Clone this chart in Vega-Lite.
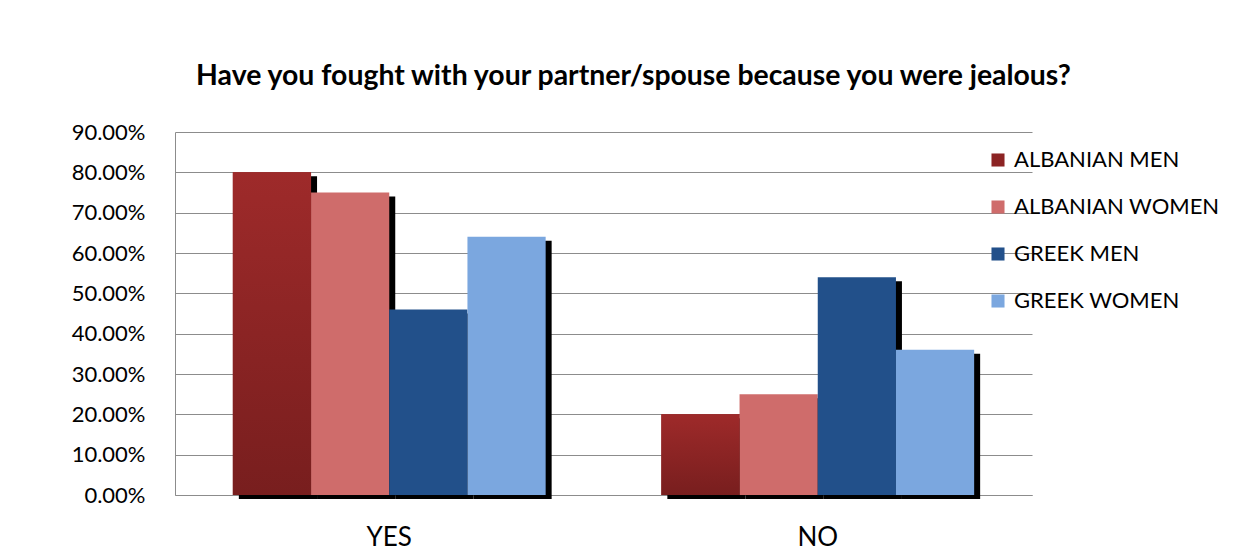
{
  "$schema": "https://vega.github.io/schema/vega-lite/v6.json",
  "autosize": "none",
  "width": 857,
  "height": 363,
  "padding": {"left": 175, "top": 132, "right": 210, "bottom": 58},
  "background": "white",
  "config": {
    "font": "Lato",
    "view": {"stroke": null}
  },
  "title": {
    "text": "Have you fought with your partner/spouse because you were jealous?",
    "font": "Lato",
    "fontSize": 28.4,
    "fontWeight": "bold",
    "color": "#000000",
    "anchor": "middle",
    "dx": 30,
    "offset": 30
  },
  "data": {
    "values": [
      {"answer": "YES", "group": "ALBANIAN MEN", "share": 0.80},
      {"answer": "YES", "group": "ALBANIAN WOMEN", "share": 0.75},
      {"answer": "YES", "group": "GREEK MEN", "share": 0.46},
      {"answer": "YES", "group": "GREEK WOMEN", "share": 0.64},
      {"answer": "NO", "group": "ALBANIAN MEN", "share": 0.20},
      {"answer": "NO", "group": "ALBANIAN WOMEN", "share": 0.25},
      {"answer": "NO", "group": "GREEK MEN", "share": 0.54},
      {"answer": "NO", "group": "GREEK WOMEN", "share": 0.36}
    ]
  },
  "encoding": {
    "x": {
      "field": "answer",
      "type": "nominal",
      "sort": ["YES", "NO"],
      "scale": {"paddingInner": 0.27, "paddingOuter": 0.135},
      "axis": {
        "title": null,
        "labelAngle": 0,
        "labelFontSize": 26,
        "labelColor": "#000000",
        "labelPadding": 29,
        "ticks": false,
        "domain": true,
        "domainColor": "#8c8c8c",
        "grid": false
      }
    },
    "y": {
      "field": "share",
      "type": "quantitative",
      "scale": {"domain": [0, 0.9], "nice": false},
      "axis": {
        "title": null,
        "format": ".2%",
        "values": [0, 0.1, 0.2, 0.3, 0.4, 0.5, 0.6, 0.7, 0.8, 0.9],
        "labelFontSize": 22,
        "labelColor": "#000000",
        "labelPadding": 30,
        "ticks": false,
        "domain": true,
        "domainColor": "#8c8c8c",
        "grid": true,
        "gridColor": "#8c8c8c",
        "gridWidth": 1
      }
    }
  },
  "resolve": {"scale": {"xOffset": "independent"}},
  "layer": [
    {
      "mark": {"type": "bar", "color": "#000000", "yOffset": 4, "y2Offset": 3},
      "encoding": {
        "xOffset": {
          "field": "group",
          "type": "nominal",
          "sort": ["ALBANIAN MEN", "ALBANIAN WOMEN", "GREEK MEN", "GREEK WOMEN"],
          "scale": {"paddingInner": 0, "paddingOuter": 0, "range": [6, 318.8]}
        }
      }
    },
    {
      "mark": {"type": "bar"},
      "encoding": {
        "xOffset": {
          "field": "group",
          "type": "nominal",
          "sort": ["ALBANIAN MEN", "ALBANIAN WOMEN", "GREEK MEN", "GREEK WOMEN"],
          "scale": {"paddingInner": 0, "paddingOuter": 0}
        },
        "color": {
          "field": "group",
          "type": "nominal",
          "sort": ["ALBANIAN MEN", "ALBANIAN WOMEN", "GREEK MEN", "GREEK WOMEN"],
          "scale": {
            "domain": ["ALBANIAN MEN", "ALBANIAN WOMEN", "GREEK MEN", "GREEK WOMEN"],
            "range": ["#8c2424", "#cf6c6b", "#22508a", "#7ba7df"]
          },
          "legend": {
            "title": null,
            "orient": "none",
            "legendX": 812,
            "legendY": 17,
            "padding": 0,
            "symbolType": "square",
            "symbolSize": 170,
            "symbolStrokeWidth": 0,
            "labelFontSize": 22,
            "labelColor": "#000000",
            "labelOffset": 5,
            "rowPadding": 25,
            "labelLimit": 400
          }
        }
      }
    },
    {
      "transform": [{"filter": "datum.group === 'ALBANIAN MEN'"}],
      "mark": {
        "type": "bar",
        "color": {
          "gradient": "linear",
          "x1": 0, "y1": 0, "x2": 0, "y2": 1,
          "stops": [
            {"offset": 0, "color": "#9e2a2a"},
            {"offset": 1, "color": "#781e1e"}
          ]
        }
      },
      "encoding": {
        "xOffset": {
          "field": "group",
          "type": "nominal",
          "sort": ["ALBANIAN MEN", "ALBANIAN WOMEN", "GREEK MEN", "GREEK WOMEN"],
          "scale": {"paddingInner": 0, "paddingOuter": 0, "domain": ["ALBANIAN MEN", "ALBANIAN WOMEN", "GREEK MEN", "GREEK WOMEN"]}
        }
      }
    }
  ]
}
